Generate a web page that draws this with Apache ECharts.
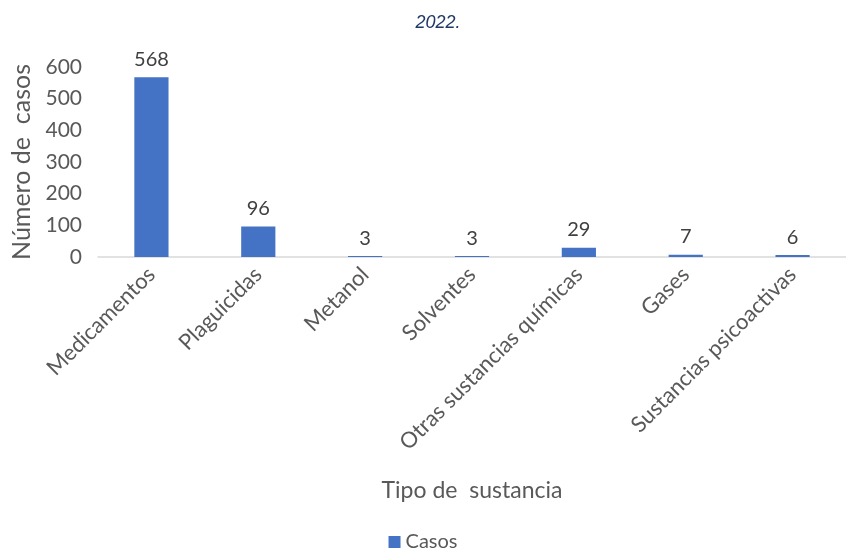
<!DOCTYPE html>
<html>
<head>
<meta charset="utf-8">
<script src="https://cdn.jsdelivr.net/npm/echarts@6/dist/echarts.min.js"></script>
<style>
  html, body { margin: 0; padding: 0; background: #fff; }
  #main { width: 846px; height: 557px; }
</style>
</head>
<body>
<div id="main"></div>
<script>
// datos del grafico
var categorias = ['Medicamentos', 'Plaguicidas', 'Metanol', 'Solventes', 'Otras sustancias químicas', 'Gases', 'Sustancias psicoactivas'];
var casos = [568, 96, 3, 3, 29, 7, 6];
var serieNombre = 'Casos';

var fuente = 'Lato';
var gris = '#595959';

var myChart = echarts.init(document.getElementById('main'));
myChart.setOption({
    animation: false,
    title: {
        text: '2022.',
        left: 433,
        top: 9,
        textAlign: 'center',
        textStyle: { fontFamily: 'Liberation Sans', fontStyle: 'italic', fontWeight: 'normal', fontSize: 18, color: '#1f3864' }
    },
    legend: {
        bottom: 0,
        left: 'center',
        itemWidth: 12,
        itemHeight: 12,
        itemGap: 4,
        icon: 'rect',
        data: [serieNombre],
        textStyle: { fontFamily: fuente, fontSize: 20, color: gris }
    },
    grid: {
        left: 98,
        right: 0,
        top: 67,
        bottom: 300
    },
    xAxis: {
        type: 'category',
        data: categorias,
        name: 'Tipo de  sustancia',
        nameLocation: 'middle',
        nameGap: 222,
        nameTextStyle: { fontFamily: fuente, fontSize: 23, color: gris },
        axisLine: { lineStyle: { color: '#d9d9d9', width: 1.5 } },
        axisTick: { show: false },
        axisLabel: { interval: 0, rotate: 45, margin: 14, fontFamily: fuente, fontSize: 22, color: gris }
    },
    yAxis: {
        type: 'value',
        min: 0,
        max: 600,
        interval: 100,
        name: 'Número de  casos',
        nameLocation: 'middle',
        nameGap: 64,
        nameTextStyle: { fontFamily: fuente, fontSize: 25, color: gris },
        axisLine: { show: false },
        axisTick: { show: false },
        splitLine: { show: false },
        axisLabel: { margin: 16, fontFamily: fuente, fontSize: 21, color: gris }
    },
    series: [
        {
            name: serieNombre,
            type: 'bar',
            data: casos,
            barWidth: '32%',
            itemStyle: { color: '#4472c4' },
            label: {
                show: true,
                position: 'top',
                distance: 8,
                fontFamily: fuente,
                fontSize: 20,
                color: '#404040'
            }
        }
    ]
});
</script>
</body>
</html>
